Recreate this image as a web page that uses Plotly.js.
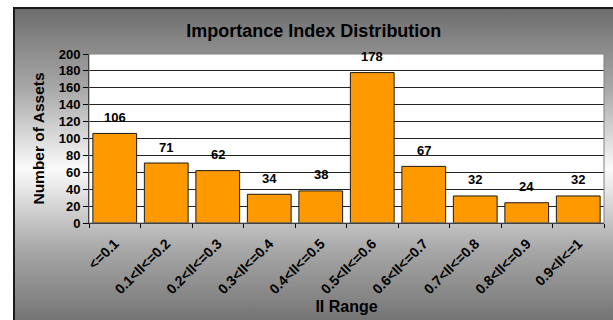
<!DOCTYPE html>
<html>
<head>
<meta charset="utf-8">
<script src="https://cdn.plot.ly/plotly-3.0.1.min.js"></script>
<style>
  html, body { margin: 0; padding: 0; background: #ffffff; }
  #frame {
    position: absolute; left: 13px; top: 7px; width: 610px; height: 320px;
    border-left: 2px solid #1a1a1a; border-top: 2px solid #1a1a1a;
    background: linear-gradient(to bottom, #6e6e6e 0%, #a8a8a8 25%, #fbfbfb 50%, #a8a8a8 75%, #6e6e6e 100%);
  }
  #chart { position: absolute; left: 0; top: 0; width: 613px; height: 320px; }
</style>
</head>
<body>
<div id="frame"></div>
<div id="chart"></div>
<script>
const categories = ["<=0.1", "0.1<II<=0.2", "0.2<II<=0.3", "0.3<II<=0.4", "0.4<II<=0.5",
                    "0.5<II<=0.6", "0.6<II<=0.7", "0.7<II<=0.8", "0.8<II<=0.9", "0.9<II<=1"];
const counts = [106, 71, 62, 34, 38, 178, 67, 32, 24, 32];
const chartTitle = "Importance Index Distribution";
const xTitle = "II Range";
const yTitle = "Number of Assets";

const fam = "Liberation Sans, Arial, sans-serif";

const trace = {
  type: "bar",
  x: categories,
  y: counts,
  marker: { color: "#ff9900", line: { color: "#1a1a1a", width: 1 } },
  hoverinfo: "x+y"
};

const annotations = categories.map((c, i) => ({
  x: c, y: counts[i], xref: "x", yref: "y",
  text: String(counts[i]),
  showarrow: false, yanchor: "middle", yshift: 16,
  font: { family: fam, size: 13, weight: "bold", color: "#000" }
}));

const layout = {
  width: 613, height: 320,
  margin: { l: 89, r: 9, t: 54, b: 97 },
  paper_bgcolor: "rgba(0,0,0,0)",
  plot_bgcolor: "#ffffff",
  bargap: 0.15,
  showlegend: false,
  title: {
    text: chartTitle,
    font: { family: fam, size: 18, weight: "bold", color: "#000" },
    x: 0.512, xref: "container", xanchor: "center",
    y: 0.903, yref: "container", yanchor: "middle"
  },
  xaxis: {
    type: "category",
    tickangle: -45,
    ticks: "outside", tickson: "boundaries", ticklen: 4, tickcolor: "#000",
    ticklabelstandoff: 6,
    showline: true, linecolor: "#000", linewidth: 1,
    tickfont: { family: fam, size: 14, weight: "bold", color: "#000" },
    title: { text: xTitle, font: { family: fam, size: 16, weight: "bold", color: "#000" }, standoff: 4 }
  },
  yaxis: {
    range: [0, 200], dtick: 20,
    ticks: "outside", ticklen: 5, tickcolor: "#000",
    showline: true, linecolor: "#000", linewidth: 1,
    showgrid: true, gridcolor: "#222", gridwidth: 1,
    zeroline: false,
    tickfont: { family: fam, size: 13, weight: "bold", color: "#000" },
    title: { text: yTitle, font: { family: fam, size: 15.5, weight: "bold", color: "#000" }, standoff: 10 }
  },
  shapes: [{
    type: "rect", xref: "paper", yref: "paper", x0: 0, x1: 1, y0: 0, y1: 1,
    line: { color: "#808080", width: 1 }, layer: "above"
  }],
  annotations: annotations
};

Plotly.newPlot("chart", [trace], layout, { displayModeBar: false, staticPlot: true });
</script>
</body>
</html>
